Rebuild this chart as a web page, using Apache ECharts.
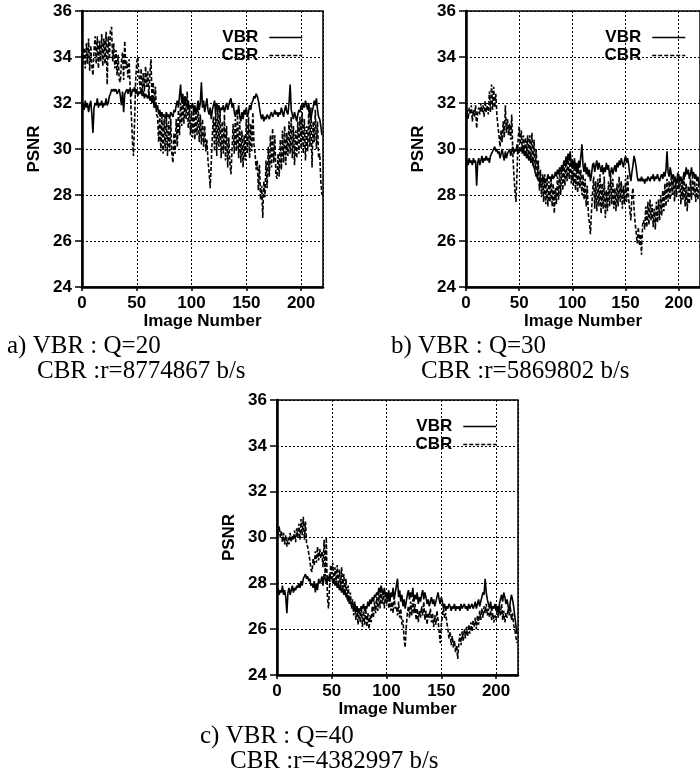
<!DOCTYPE html>
<html>
<head>
<meta charset="utf-8">
<script src="https://cdn.jsdelivr.net/npm/echarts@6/dist/echarts.min.js"></script>
<style>
  html, body { margin: 0; padding: 0; background: #fff; }
  #chart { width: 700px; height: 780px; }
</style>
</head>
<body>
<div id="chart"></div>
<script>
// Axis ticks shared by the three panels
const frameTicks = [0, 50, 100, 150, 200];
const frameMax = 220;
const psnrTicks = [24, 26, 28, 30, 32, 34, 36];

// PSNR per image, panel a (VBR Q=20 / CBR r=8774867 b/s)
const vbrA = [
  31.9, 32.0, 31.7, 32.1, 31.8, 32.0, 31.6, 31.9, 32.1, 31.5, 30.7, 31.8, 32.0, 31.9, 32.2, 31.8, 32.0, 31.9, 32.1, 31.8,
  32.0, 31.9, 32.2, 31.9, 32.0, 32.3, 32.4, 32.6, 32.5, 32.6, 32.5, 32.6, 32.4, 32.5, 32.6, 32.3, 31.9, 32.5, 31.6, 32.4,
  32.5, 32.6, 32.4, 32.6, 32.5, 32.3, 32.6, 32.5, 32.7, 32.4, 32.6, 32.3, 32.5, 32.4, 32.6, 32.3, 32.5, 32.2, 32.4, 32.3,
  32.2, 32.4, 32.1, 32.3, 32.0, 32.2, 31.8, 32.0, 31.7, 31.9, 31.5, 31.7, 31.4, 31.6, 31.4, 31.5, 31.3, 31.6, 31.4, 31.5,
  31.3, 31.6, 31.5, 31.4, 31.7, 31.6, 31.9, 32.1, 31.8, 32.3, 32.8, 32.0, 32.4, 31.9, 32.3, 32.0, 31.8, 32.1, 31.7, 31.9,
  31.8, 32.0, 31.6, 31.9, 31.5, 31.8, 32.1, 31.7, 32.0, 32.9, 31.8, 32.1, 31.6, 31.9, 32.2, 31.7, 31.5, 31.8, 31.3, 31.7,
  31.9, 32.1, 31.6, 32.0, 31.7, 31.9, 31.6, 31.8, 31.7, 31.9, 31.6, 31.8, 32.0, 31.7, 31.9, 32.1, 32.2, 31.8, 32.0, 31.6,
  31.4, 31.7, 31.5, 31.9, 31.4, 31.2, 31.6, 31.3, 31.7, 31.5, 31.8, 31.4, 31.6, 31.9, 31.7, 32.0, 32.1, 32.3, 32.2, 32.4,
  32.3, 32.1, 31.8, 31.5, 31.3, 31.5, 31.2, 31.4, 31.3, 31.5, 31.4, 31.3, 31.5, 31.6, 31.4, 31.5, 31.7, 31.5, 31.6, 31.4,
  31.6, 31.5, 31.8, 31.6, 31.4, 31.7, 31.9, 31.6, 31.5, 32.0, 32.8, 31.7, 31.5, 31.3, 31.6, 31.4, 31.2, 31.5, 31.7, 31.6,
  31.9, 31.7, 32.0, 31.8, 32.1, 31.9, 31.7, 32.0, 31.5, 31.3, 31.6, 31.8, 32.1, 31.9, 32.2, 31.7, 31.4, 31.3, 31.0, 30.6
];
const cbrA = [
  33.4, 33.9, 34.4, 33.5, 34.6, 33.7, 34.8, 33.4, 34.5, 33.6, 33.2, 34.3, 34.9, 33.7, 34.9, 33.5, 34.7, 33.8, 35.0, 33.6,
  34.8, 33.7, 35.1, 32.8, 34.9, 33.9, 35.2, 35.3, 33.8, 34.6, 33.5, 34.3, 33.2, 34.1, 33.0, 32.9, 33.8, 34.2, 33.0, 34.7,
  33.5, 33.8, 33.1, 33.9, 32.6, 31.5, 30.4, 29.7, 31.2, 33.0, 33.8, 34.0, 33.2, 32.6, 33.5, 32.4, 33.3, 32.5, 33.6, 32.7,
  33.4, 32.2, 33.3, 33.9, 32.0, 32.9, 31.8, 32.7, 31.5, 31.4, 30.3, 31.5, 29.9, 31.4, 29.8, 31.3, 29.9, 31.5, 29.7, 31.2,
  29.9, 31.3, 29.8, 29.4, 30.7, 29.8, 31.3, 30.1, 31.7, 30.6, 32.0, 31.0, 32.2, 31.1, 32.1, 31.3, 32.5, 30.9, 31.9, 30.6,
  31.7, 30.5, 31.8, 30.4, 31.6, 30.6, 32.0, 30.3, 31.5, 30.2, 31.3, 30.1, 31.0, 29.9, 30.4, 29.5, 29.0, 28.3, 29.4, 30.6,
  31.4, 29.9, 31.8, 29.7, 31.9, 30.1, 31.7, 29.6, 31.2, 29.8, 31.5, 29.5, 31.0, 29.2, 30.5, 29.4, 28.9, 30.0, 31.1, 29.8,
  31.3, 29.9, 31.5, 29.6, 31.2, 29.4, 30.8, 29.2, 30.6, 29.5, 31.3, 29.8, 31.4, 29.6, 31.1, 29.9, 31.6, 30.2, 29.8, 29.1,
  29.5, 28.2, 29.3, 27.8, 28.4, 27.0, 28.6, 27.9, 29.5, 28.3, 30.1, 28.8, 30.6, 29.2, 30.9, 29.4, 30.6, 28.9, 28.7, 29.8,
  28.8, 30.4, 29.1, 30.8, 29.4, 31.0, 29.3, 30.7, 29.7, 31.2, 29.8, 31.4, 29.6, 31.0, 29.3, 30.8, 29.6, 31.2, 29.8, 31.4,
  30.0, 31.6, 29.8, 31.3, 29.5, 31.0, 29.9, 31.7, 30.1, 31.8, 29.2, 31.2, 30.3, 31.7, 30.0, 31.2, 29.6, 29.8, 28.6, 28.0
];

// PSNR per image, panel b (VBR Q=30 / CBR r=5869802 b/s)
const vbrB = [
  29.2, 29.5, 29.3, 29.6, 29.4, 29.5, 29.3, 29.6, 29.4, 29.5, 28.4, 29.4, 29.6, 29.3, 29.5, 29.7, 29.4, 29.6, 29.5, 29.7,
  29.5, 29.6, 29.4, 29.7, 29.8, 29.9, 30.0, 30.1, 29.9, 30.0, 29.8, 29.9, 29.6, 29.8, 30.0, 29.7, 29.5, 29.9, 29.6, 29.8,
  29.9, 30.0, 29.7, 29.9, 30.1, 29.8, 30.0, 29.9, 30.2, 29.8, 30.0, 29.9, 30.1, 29.8, 30.0, 29.7, 29.9, 29.6, 29.8, 29.5,
  29.7, 29.4, 29.6, 29.3, 29.2, 29.0, 28.8, 28.9, 28.6, 28.7, 28.5, 28.7, 28.6, 28.8, 28.5, 28.7, 28.6, 28.9, 28.7, 28.8,
  28.6, 28.9, 28.7, 28.8, 29.0, 28.8, 29.1, 28.9, 29.2, 29.0, 29.3, 29.1, 29.5, 29.3, 29.6, 29.4, 29.8, 29.5, 29.9, 29.3,
  29.5, 29.2, 29.6, 29.1, 29.4, 29.0, 29.5, 29.2, 29.7, 30.2, 29.3, 29.0, 29.4, 28.9, 29.2, 28.8, 29.1, 28.6, 28.9, 29.3,
  29.4, 29.0, 29.3, 29.5, 29.1, 29.4, 29.2, 29.0, 29.3, 28.9, 29.2, 29.0, 29.4, 29.1, 29.3, 28.8, 29.0, 29.2, 28.9, 29.1,
  29.3, 29.0, 29.4, 29.2, 29.5, 29.3, 29.6, 29.4, 29.2, 29.5, 29.7, 29.4, 29.6, 29.3, 28.9, 28.6, 29.0, 29.3, 29.7, 29.5,
  29.2, 28.8, 28.6, 28.7, 28.6, 28.8, 28.6, 28.7, 28.5, 28.7, 28.6, 28.8, 28.7, 28.6, 28.8, 28.7, 28.9, 28.6, 28.8, 28.7,
  28.9, 28.7, 28.6, 28.8, 28.9, 28.7, 29.0, 28.8, 29.1, 29.9, 29.0, 28.8, 29.2, 28.9, 28.7, 28.9, 28.6, 28.8, 28.5, 28.7,
  28.9, 28.6, 28.8, 28.5, 28.7, 29.0, 28.8, 29.2, 28.9, 29.1, 28.7, 28.9, 29.2, 28.8, 29.0, 28.7, 28.9, 28.6, 28.8, 28.5
];
const cbrB = [
  31.4, 31.7, 31.3, 31.8, 31.5, 31.9, 31.2, 31.7, 31.4, 31.9, 30.9, 31.6, 31.8, 31.5, 32.0, 31.6, 31.9, 31.4, 32.1, 31.6,
  31.9, 31.5, 32.5, 31.6, 32.8, 31.7, 32.7, 31.8, 32.4, 31.5, 31.0, 30.6, 30.1, 30.8, 30.3, 31.2, 30.5, 31.9, 30.7, 31.3,
  30.6, 31.1, 30.4, 31.5, 29.8, 28.9, 28.2, 27.7, 29.0, 30.4, 31.0, 30.2, 30.8, 29.9, 30.6, 29.7, 30.5, 29.8, 30.6, 29.6,
  30.6, 29.5, 30.7, 29.3, 30.4, 29.1, 30.0, 28.7, 29.5, 28.2, 29.1, 27.9, 28.9, 27.7, 28.9, 27.6, 28.7, 27.5, 28.6, 27.7,
  28.8, 27.5, 28.5, 27.2, 28.3, 27.6, 28.8, 27.8, 29.0, 28.0, 29.3, 28.2, 29.5, 28.4, 29.7, 28.6, 29.8, 28.7, 29.7, 28.5,
  29.5, 28.4, 29.4, 28.2, 29.3, 28.1, 29.4, 28.3, 29.1, 28.0, 28.9, 27.8, 28.7, 27.5, 28.4, 27.2, 26.8, 26.3, 27.3, 28.1,
  28.8, 27.4, 28.6, 27.3, 28.7, 27.5, 28.9, 27.2, 28.5, 27.4, 28.8, 27.0, 28.2, 27.3, 28.6, 27.5, 28.9, 27.6, 28.7, 27.4,
  28.3, 27.3, 28.5, 27.5, 28.8, 27.7, 28.6, 27.4, 28.4, 27.6, 28.7, 27.7, 28.9, 27.8, 27.8, 26.9, 28.0, 28.3, 27.4, 26.8,
  26.8, 25.9, 26.6, 25.8, 26.3, 25.4, 26.7, 26.9, 26.5, 27.5, 26.6, 27.7, 26.7, 27.8, 26.9, 27.6, 26.6, 27.4, 26.5, 27.7,
  26.8, 27.8, 26.9, 28.0, 27.1, 28.2, 27.3, 28.5, 27.5, 28.7, 27.7, 28.6, 27.8, 28.9, 28.0, 28.8, 27.7, 28.7, 27.9, 29.0,
  28.1, 28.8, 27.6, 28.6, 27.8, 28.9, 27.5, 28.5, 27.3, 28.4, 27.6, 28.7, 27.8, 28.8, 28.0, 28.6, 27.7, 28.5, 27.8, 28.6
];

// PSNR per image, panel c (VBR Q=40 / CBR r=4382997 b/s)
const vbrC = [
  27.6, 27.8, 27.5, 27.7, 27.6, 27.9, 27.5, 27.7, 27.4, 26.7, 27.6, 27.8, 27.5, 27.7, 27.9, 27.6, 27.8, 27.7, 27.9, 27.8,
  28.0, 27.8, 28.1, 27.9, 28.2, 28.3, 28.4, 28.2, 28.3, 28.1, 28.2, 27.9, 28.0, 27.8, 28.1, 27.6, 28.0, 27.7, 28.2, 28.0,
  28.1, 28.3, 27.9, 28.4, 28.2, 28.0, 28.3, 28.1, 28.4, 28.2, 28.3, 28.0, 28.2, 27.9, 28.1, 27.8, 28.0, 27.7, 27.9, 27.6,
  27.8, 27.5, 27.7, 27.4, 27.5, 27.2, 27.4, 27.1, 27.2, 27.0, 26.9, 27.1, 26.8, 27.0, 26.7, 26.9, 26.8, 27.0, 26.9, 27.1,
  26.8, 27.0, 26.9, 27.2, 27.0, 27.3, 27.1, 27.4, 27.2, 27.5, 27.4, 27.6, 27.5, 27.8, 27.6, 27.9, 27.7, 27.5, 27.8, 27.4,
  27.6, 27.3, 27.7, 27.2, 27.6, 27.4, 27.8, 27.3, 27.6, 27.9, 28.2, 27.4, 27.7, 27.2, 27.5, 27.0, 27.3, 26.9, 27.2, 27.5,
  27.7, 27.3, 27.6, 27.4, 27.8, 27.2, 27.5, 27.3, 27.6, 27.1, 27.4, 27.2, 27.5, 27.7, 27.3, 27.6, 27.4, 27.1, 27.3, 27.0,
  27.2, 27.4, 27.1, 27.3, 27.0, 27.2, 27.4, 27.6, 27.3, 27.1, 27.4, 27.2, 26.9, 27.1, 26.8, 27.0, 26.9, 27.1, 27.0, 26.8,
  27.0, 26.9, 27.1, 26.8, 27.0, 26.9, 27.0, 26.8, 27.1, 26.9, 27.0, 27.1, 26.9, 27.0, 26.8, 27.1, 26.9, 27.0, 27.1, 26.9,
  27.0, 27.2, 26.9, 27.1, 27.3, 27.0, 27.2, 27.4, 27.6, 27.5, 28.2, 27.6, 27.3, 27.1, 26.9, 27.2, 26.8, 27.0, 26.9, 27.1,
  26.8, 27.0, 26.7, 27.1, 27.3, 27.5, 27.2, 27.6, 27.4, 27.1, 27.3, 27.0, 26.8, 27.2, 27.5, 27.3, 27.0, 26.6, 26.2, 25.8
];
const cbrC = [
  30.4, 30.1, 30.5, 30.0, 30.3, 29.8, 30.2, 29.7, 30.1, 29.6, 30.0, 29.7, 30.2, 29.8, 30.1, 29.9, 30.3, 29.8, 30.4, 30.0,
  30.6, 29.9, 30.8, 30.1, 30.9, 29.9, 30.7, 29.7, 29.6, 29.3, 29.0, 28.6, 28.5, 29.1, 28.8, 29.4, 28.9, 29.6, 29.0, 29.5,
  29.1, 29.4, 28.7, 29.9, 28.3, 30.0, 27.4, 26.9, 27.9, 28.8, 28.4, 28.9, 28.0, 28.7, 28.1, 28.8, 27.9, 28.6, 27.8, 28.7,
  27.7, 28.4, 27.5, 28.2, 27.3, 27.9, 27.1, 27.6, 26.9, 27.3, 26.6, 27.2, 26.4, 27.0, 26.2, 26.9, 26.3, 27.0, 26.1, 26.8,
  26.2, 26.9, 26.1, 26.7, 26.0, 26.6, 26.3, 27.0, 26.5, 27.2, 26.7, 27.4, 26.8, 27.6, 26.9, 27.7, 27.1, 27.6, 26.9, 27.5,
  27.1, 27.5, 26.9, 27.3, 26.8, 27.2, 26.7, 27.4, 26.9, 27.0, 26.6, 27.2, 26.5, 26.9, 26.2, 26.4, 25.6, 25.2, 26.1, 26.7,
  27.0, 26.5, 27.2, 26.6, 27.3, 26.7, 27.1, 26.4, 26.9, 26.3, 26.8, 26.5, 27.0, 26.6, 27.2, 26.4, 26.8, 26.2, 26.7, 26.5,
  26.9, 26.3, 26.7, 26.1, 26.6, 26.2, 26.8, 26.4, 25.9, 25.4, 26.2, 26.6, 26.9, 26.5, 26.7, 26.3, 26.0, 25.6, 25.9, 25.3,
  25.7, 25.2, 25.5, 25.0, 25.3, 24.7, 25.4, 25.8, 25.3, 25.9, 25.5, 26.0, 25.6, 26.1, 25.7, 26.2, 25.8, 26.3, 25.9, 26.4,
  26.1, 26.5, 26.0, 26.6, 26.2, 26.8, 26.4, 26.9, 26.5, 27.0, 26.7, 27.1, 26.6, 26.9, 26.5, 26.8, 26.4, 26.7, 26.3, 26.6,
  26.4, 26.9, 26.5, 27.0, 26.6, 27.1, 26.4, 26.8, 26.3, 26.7, 26.5, 26.9, 26.6, 27.0, 26.4, 26.7, 26.2, 26.0, 25.7, 25.4
];

// Captions under each panel
const captionsTop = ['a) VBR : Q=20', 'b) VBR : Q=30', 'c) VBR : Q=40'];
const captionsBottom = ['CBR :r=8774867 b/s', 'CBR :r=5869802 b/s', 'CBR :r=4382997 b/s'];
const seriesNames = ['VBR', 'CBR'];

// Panel layout (pixels)
const layout = [
  { grid: { left: 82, top: 11, width: 241, height: 276 }, legendRight: 397, legendTop: 29, capX: 7, capY: 346 },
  { grid: { left: 466, top: 11, width: 241, height: 276 }, legendRight: 14, legendTop: 29, capX: 391, capY: 346 },
  { grid: { left: 277, top: 400, width: 241, height: 275 }, legendRight: 203, legendTop: 418, capX: 200, capY: 736 }
];
const panelData = [[vbrA, cbrA], [vbrB, cbrB], [vbrC, cbrC]];

const sans = 'Liberation Sans';
const serif = 'Liberation Serif';
const ink = '#000';
const labelStyle = { fontFamily: sans, fontSize: 17, fontWeight: 'bold', color: ink };

const toPoints = arr => arr.map((v, i) => [i, v]);

const option = {
  backgroundColor: '#fff',
  animation: false,
  grid: layout.map(l => Object.assign({
    show: true, borderColor: ink, borderWidth: 1.5, backgroundColor: 'transparent', containLabel: false
  }, l.grid)),
  xAxis: layout.map((l, i) => ({
    gridIndex: i,
    type: 'value',
    min: frameTicks[0],
    max: frameMax,
    interval: frameTicks[1] - frameTicks[0],
    name: 'Image Number',
    nameLocation: 'middle',
    nameGap: 26,
    nameTextStyle: labelStyle,
    axisLine: { show: true, onZero: false, lineStyle: { color: ink, width: 2.5 } },
    axisTick: { show: true, length: 4, lineStyle: { color: ink, width: 1.5 } },
    axisLabel: Object.assign({ margin: 8, showMaxLabel: false,
      formatter: v => (frameTicks.includes(v) ? String(v) : '') }, labelStyle),
    splitLine: { show: true, lineStyle: { color: ink, type: [2, 2], width: 1 } }
  })),
  yAxis: layout.map((l, i) => ({
    gridIndex: i,
    type: 'value',
    min: psnrTicks[0],
    max: psnrTicks[psnrTicks.length - 1],
    interval: psnrTicks[1] - psnrTicks[0],
    name: 'PSNR',
    nameLocation: 'middle',
    nameGap: 39,
    nameRotate: 90,
    nameTextStyle: labelStyle,
    axisLine: { show: true, onZero: false, lineStyle: { color: ink, width: 2.5 } },
    axisTick: { show: true, length: 7, lineStyle: { color: ink, width: 1.5 } },
    axisLabel: Object.assign({ margin: 10 }, labelStyle),
    splitLine: { show: true, lineStyle: { color: ink, type: [2, 2], width: 1 } }
  })),
  legend: layout.map(l => ({
    data: seriesNames,
    orient: 'vertical',
    align: 'right',
    right: l.legendRight,
    top: l.legendTop,
    itemWidth: 33,
    itemHeight: 10,
    itemGap: 1,
    padding: 0,
    selectedMode: false,
    itemStyle: { opacity: 0 },
    lineStyle: { width: 1.5 },
    textStyle: { fontFamily: sans, fontSize: 17, fontWeight: 'bold', color: ink, lineHeight: 17, padding: [0, 6, 0, 0] }
  })),
  series: [],
  graphic: []
};

panelData.forEach(([vbr, cbr], i) => {
  option.series.push({
    type: 'line', name: 'CBR', xAxisIndex: i, yAxisIndex: i,
    data: toPoints(cbr), symbol: 'none', showSymbol: false,
    lineStyle: { color: ink, width: 1.6, type: [4, 2] }, itemStyle: { color: ink }, z: 3
  });
  option.series.push({
    type: 'line', name: 'VBR', xAxisIndex: i, yAxisIndex: i,
    data: toPoints(vbr), symbol: 'none', showSymbol: false,
    lineStyle: { color: ink, width: 1.6, type: 'solid' }, itemStyle: { color: ink }, z: 4
  });
  const l = layout[i];
  option.graphic.push({
    type: 'text', x: l.capX, y: l.capY,
    style: { text: captionsTop[i], fontFamily: serif, fontSize: 25, fill: ink, verticalAlign: 'middle' }
  });
  option.graphic.push({
    type: 'text', x: l.capX + 30, y: l.capY + 25,
    style: { text: captionsBottom[i], fontFamily: serif, fontSize: 25, fill: ink, verticalAlign: 'middle' }
  });
});

const chart = echarts.init(document.getElementById('chart'), null, { renderer: 'canvas' });
chart.setOption(option);
</script>
</body>
</html>
